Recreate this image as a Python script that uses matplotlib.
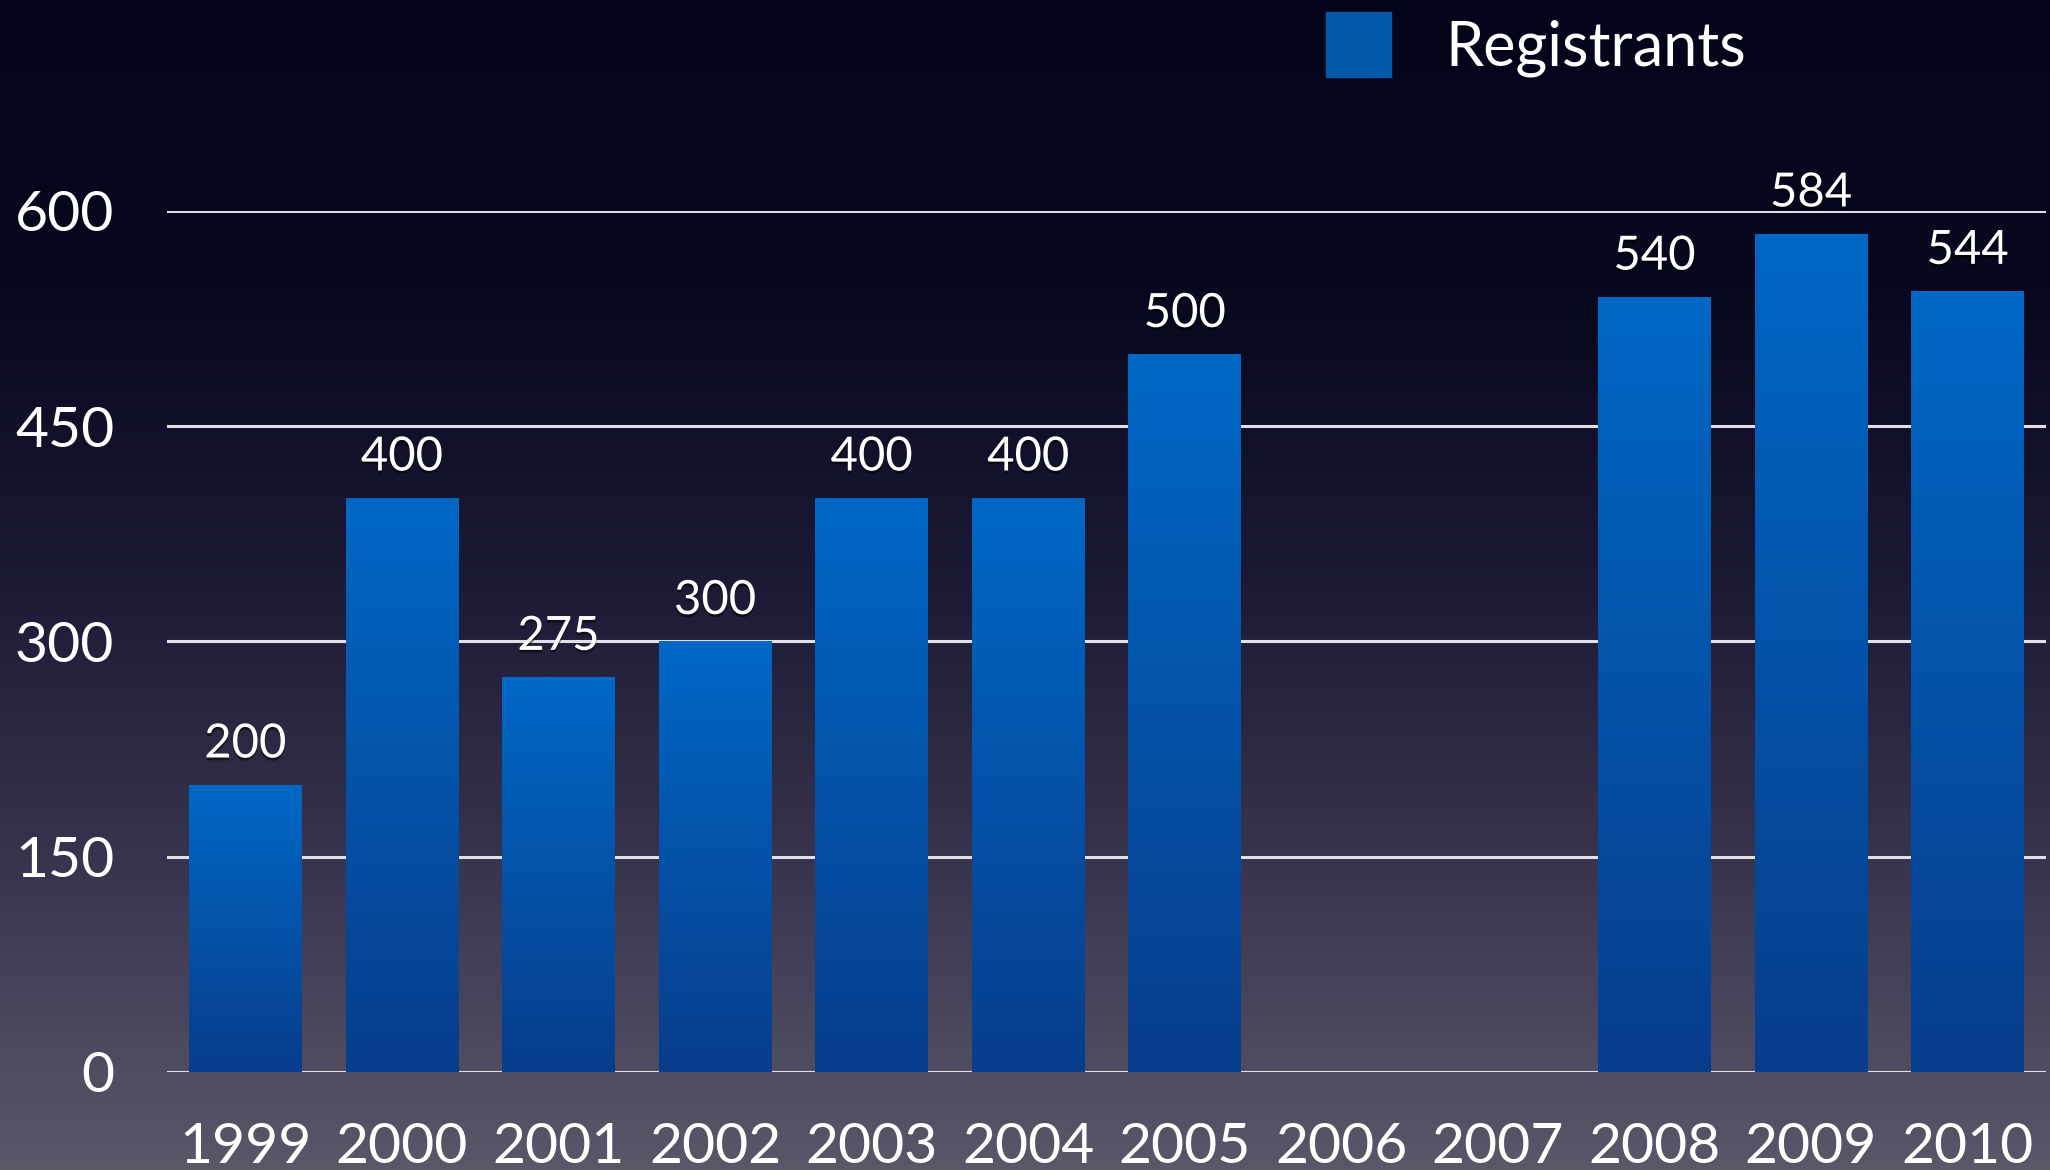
import numpy as np
import matplotlib.pyplot as plt
import matplotlib.patheffects as pe
from matplotlib.colors import LinearSegmentedColormap
from matplotlib.patches import Rectangle

years = ["1999", "2000", "2001", "2002", "2003", "2004", "2005",
         "2006", "2007", "2008", "2009", "2010"]
registrants = [200, 400, 275, 300, 400, 400, 500,
               np.nan, np.nan, 540, 584, 544]
y_ticks = [0, 150, 300, 450, 600]
legend_label = "Registrants"

plt.rcParams['font.family'] = ['Lato', 'DejaVu Sans']

fig = plt.figure(figsize=(20.5, 11.7), dpi=100)

# background gradient (dark navy at top -> greyish purple at bottom)
bg_ax = fig.add_axes([0, 0, 1, 1], zorder=-10)
bg_cmap = LinearSegmentedColormap.from_list(
    "bg", ["#5b5769", "#3a3650", "#1c1a35", "#08081e", "#04041a"])
bg_ax.imshow(np.linspace(0, 1, 256).reshape(-1, 1), aspect="auto",
             cmap=bg_cmap, origin="lower", extent=[0, 1, 0, 1])
bg_ax.axis("off")

ax = fig.add_axes([0.0815, 0.0838, 0.9165, 0.7359])
ax.set_facecolor("none")
x = np.arange(len(years))
bar_cmap = LinearSegmentedColormap.from_list("bar", ["#083d8c", "#0068c6"])
grad = np.linspace(0, 1, 256).reshape(-1, 1)

bars = ax.bar(x, registrants, width=0.72, color="#0458a8", zorder=3,
              path_effects=[pe.SimplePatchShadow(offset=(0, 0), shadow_rgbFace="black", alpha=0.35),
                            pe.Normal()])
for b, v in zip(bars, registrants):
    if np.isnan(v):
        continue
    im = ax.imshow(grad, aspect="auto", cmap=bar_cmap, origin="lower", zorder=4,
                   extent=[b.get_x(), b.get_x() + b.get_width(), 0, v])
    im.set_clip_path(b)
    ax.annotate(f"{int(v)}", (b.get_x() + b.get_width() / 2, v),
                xytext=(0, 14), textcoords="offset points", ha="center", va="bottom",
                color="white", fontsize=34, zorder=6, annotation_clip=False,
                path_effects=[pe.withSimplePatchShadow(offset=(0, -2), shadow_rgbFace="black", alpha=0.5)])

ax.set_xlim(-0.5, len(years) - 0.5)
ax.set_ylim(0, 600)
ax.set_yticks(y_ticks)
ax.set_xticks(x)
ax.set_xticklabels(years)
ax.yaxis.grid(True, color="#e0e0e6", linewidth=2.2, zorder=1)
ax.set_axisbelow(True)
ax.tick_params(axis="both", length=0, colors="white", labelsize=41)
ax.tick_params(axis="y", pad=38)
ax.tick_params(axis="x", pad=36)
for s in ax.spines.values():
    s.set_visible(False)
ax.axhline(0, color="#e0e0e6", linewidth=2.2, zorder=2)

# legend
lx, ly, lw, lh = 1326 / 2050, 1 - 77 / 1170, 65 / 2050, 65 / 1170
sq = Rectangle((lx, ly), lw, lh, transform=fig.transFigure, color="#0458a8", zorder=5)
fig.patches.append(sq)
lim = bg_ax.imshow(grad, aspect="auto", cmap=bar_cmap, origin="lower", zorder=6,
                   extent=[lx, lx + lw, ly, ly + lh])
lim.set_clip_path(sq)
bg_ax.set_xlim(0, 1)
bg_ax.set_ylim(0, 1)
fig.text(1445 / 2050, 1 - 48 / 1170, legend_label, color="white", fontsize=44,
         ha="left", va="center")

fig.savefig("out.png", dpi=100)
